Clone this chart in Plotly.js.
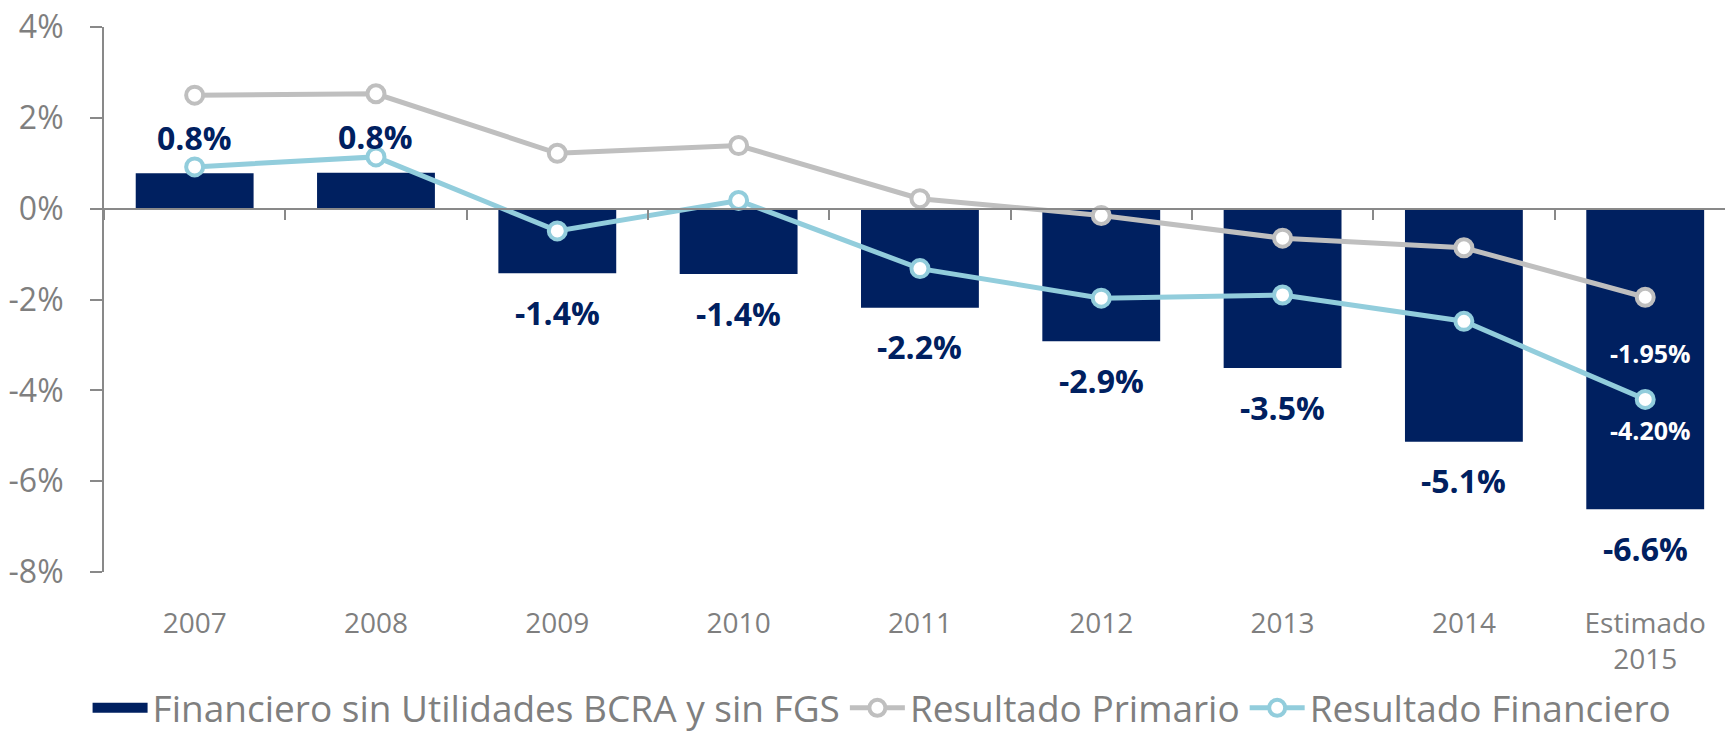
<!DOCTYPE html>
<html>
<head>
<meta charset="utf-8">
<script src="https://cdn.plot.ly/plotly-3.0.1.min.js"></script>
<style>
  html, body { margin: 0; padding: 0; background: #ffffff; }
  #chart { width: 1725px; height: 740px; }
</style>
</head>
<body>
<div id="chart"></div>
<script>
// ---- data ----
const categories = ['2007', '2008', '2009', '2010', '2011', '2012', '2013', '2014', 'Estimado<br>2015'];
const financieroSinUtilidades = [0.78, 0.79, -1.42, -1.44, -2.18, -2.92, -3.51, -5.13, -6.62];
const resultadoPrimario = [2.50, 2.53, 1.22, 1.39, 0.22, -0.15, -0.65, -0.86, -1.95];
const resultadoFinanciero = [0.92, 1.14, -0.49, 0.18, -1.32, -1.97, -1.90, -2.48, -4.20];
const yTickVals = [-8, -6, -4, -2, 0, 2, 4];
const yTickText = ['-8%', '-6%', '-4%', '-2%', '0%', '2%', '4%'];
const seriesNames = ['Financiero sin Utilidades BCRA y sin FGS', 'Resultado Primario', 'Resultado Financiero'];

// ---- style ----
const NAVY = '#002060';
const GRAY_LINE = '#BFBFBF';
const BLUE_LINE = '#92CDDC';
const AXIS = '#898989';
const TEXT_GRAY = '#7F7F7F';
const FONT = 'Open Sans, Lato, sans-serif';
const yRange = [-8, 4];
const xRange = [-0.5, 8.44];

const traces = [
  {
    type: 'bar', name: seriesNames[0], showlegend: false,
    x: categories, y: financieroSinUtilidades,
    xaxis: 'x', yaxis: 'y',
    marker: { color: NAVY },
    width: 0.65,
    hoverinfo: 'skip'
  },
  {
    // legend entry for the bar series (wide swatch), draws nothing
    type: 'scatter', mode: 'lines', name: seriesNames[0],
    x: categories, y: categories.map(() => null),
    xaxis: 'x', yaxis: 'y',
    line: { color: NAVY, width: 24 },
    hoverinfo: 'skip'
  },
  {
    type: 'scatter', mode: 'lines+markers', name: seriesNames[1],
    x: categories, y: resultadoPrimario,
    xaxis: 'x2', yaxis: 'y',
    line: { color: GRAY_LINE, width: 5 },
    marker: { symbol: 'circle', size: 17, color: '#ffffff', line: { color: GRAY_LINE, width: 4 } },
    hoverinfo: 'skip'
  },
  {
    type: 'scatter', mode: 'lines+markers', name: seriesNames[2],
    x: categories, y: resultadoFinanciero,
    xaxis: 'x2', yaxis: 'y',
    line: { color: BLUE_LINE, width: 5 },
    marker: { symbol: 'circle', size: 17, color: '#ffffff', line: { color: BLUE_LINE, width: 4 } },
    hoverinfo: 'skip'
  }
];

const annotations = categories.map((c, i) => {
  const v = financieroSinUtilidades[i];
  return {
    x: i, y: v, xref: 'x', yref: 'y',
    text: v.toFixed(1) + '%',
    showarrow: false, yanchor: 'middle', xanchor: 'center',
    yshift: v >= 0 ? 36 : -39,
    font: { family: FONT, size: 32, color: NAVY, weight: 'bold' }
  };
});
const last = categories.length - 1;
annotations.push({
  x: last, y: resultadoPrimario[last], xref: 'x', yref: 'y',
  text: resultadoPrimario[last].toFixed(2) + '%',
  showarrow: false, yanchor: 'middle', xanchor: 'center', yshift: -56, xshift: 5,
  font: { family: FONT, size: 25, color: '#ffffff', weight: 'bold' }
});
annotations.push({
  x: last, y: resultadoFinanciero[last], xref: 'x', yref: 'y',
  text: resultadoFinanciero[last].toFixed(2) + '%',
  showarrow: false, yanchor: 'middle', xanchor: 'center', yshift: -31, xshift: 5,
  font: { family: FONT, size: 25, color: '#ffffff', weight: 'bold' }
});

const layout = {
  width: 1725, height: 740,
  margin: { l: 104, r: 0, t: 27, b: 168, pad: 0, autoexpand: false },
  paper_bgcolor: '#ffffff', plot_bgcolor: 'rgba(0,0,0,0)',
  font: { family: FONT, color: TEXT_GRAY },
  bargap: 0.35,
  showlegend: true,
  legend: {
    orientation: 'h', x: 0.48, xanchor: 'center', y: -0.307, yanchor: 'bottom',
    font: { family: FONT, size: 37, color: TEXT_GRAY },
    itemwidth: 55, tracegroupgap: 0, bgcolor: 'rgba(0,0,0,0)', borderwidth: 0
  },
  xaxis: {
    type: 'category', range: xRange, anchor: 'y',
    showline: false, showgrid: false, zeroline: false,
    ticks: '', ticklabelstandoff: 32, automargin: false,
    tickfont: { family: FONT, size: 28, color: TEXT_GRAY },
    fixedrange: true
  },
  xaxis2: {
    type: 'category', range: xRange, overlaying: 'x', anchor: 'free',
    position: (0 - yRange[0]) / (yRange[1] - yRange[0]),
    showline: true, linecolor: AXIS, linewidth: 2,
    ticks: 'outside', tickson: 'boundaries', ticklen: 10, tickwidth: 2, tickcolor: AXIS,
    showticklabels: false, showgrid: false, zeroline: false,
    fixedrange: true
  },
  yaxis: {
    range: yRange, tickmode: 'array', tickvals: yTickVals, ticktext: yTickText,
    showline: true, linecolor: AXIS, linewidth: 2,
    ticks: 'outside', ticklen: 12, tickwidth: 2, tickcolor: AXIS,
    ticklabelstandoff: 20, automargin: false,
    tickfont: { family: FONT, size: 32, color: TEXT_GRAY },
    showgrid: false, zeroline: false, fixedrange: true
  },
  annotations: annotations
};

Plotly.newPlot('chart', traces, layout, { displayModeBar: false, staticPlot: true });
</script>
</body>
</html>
